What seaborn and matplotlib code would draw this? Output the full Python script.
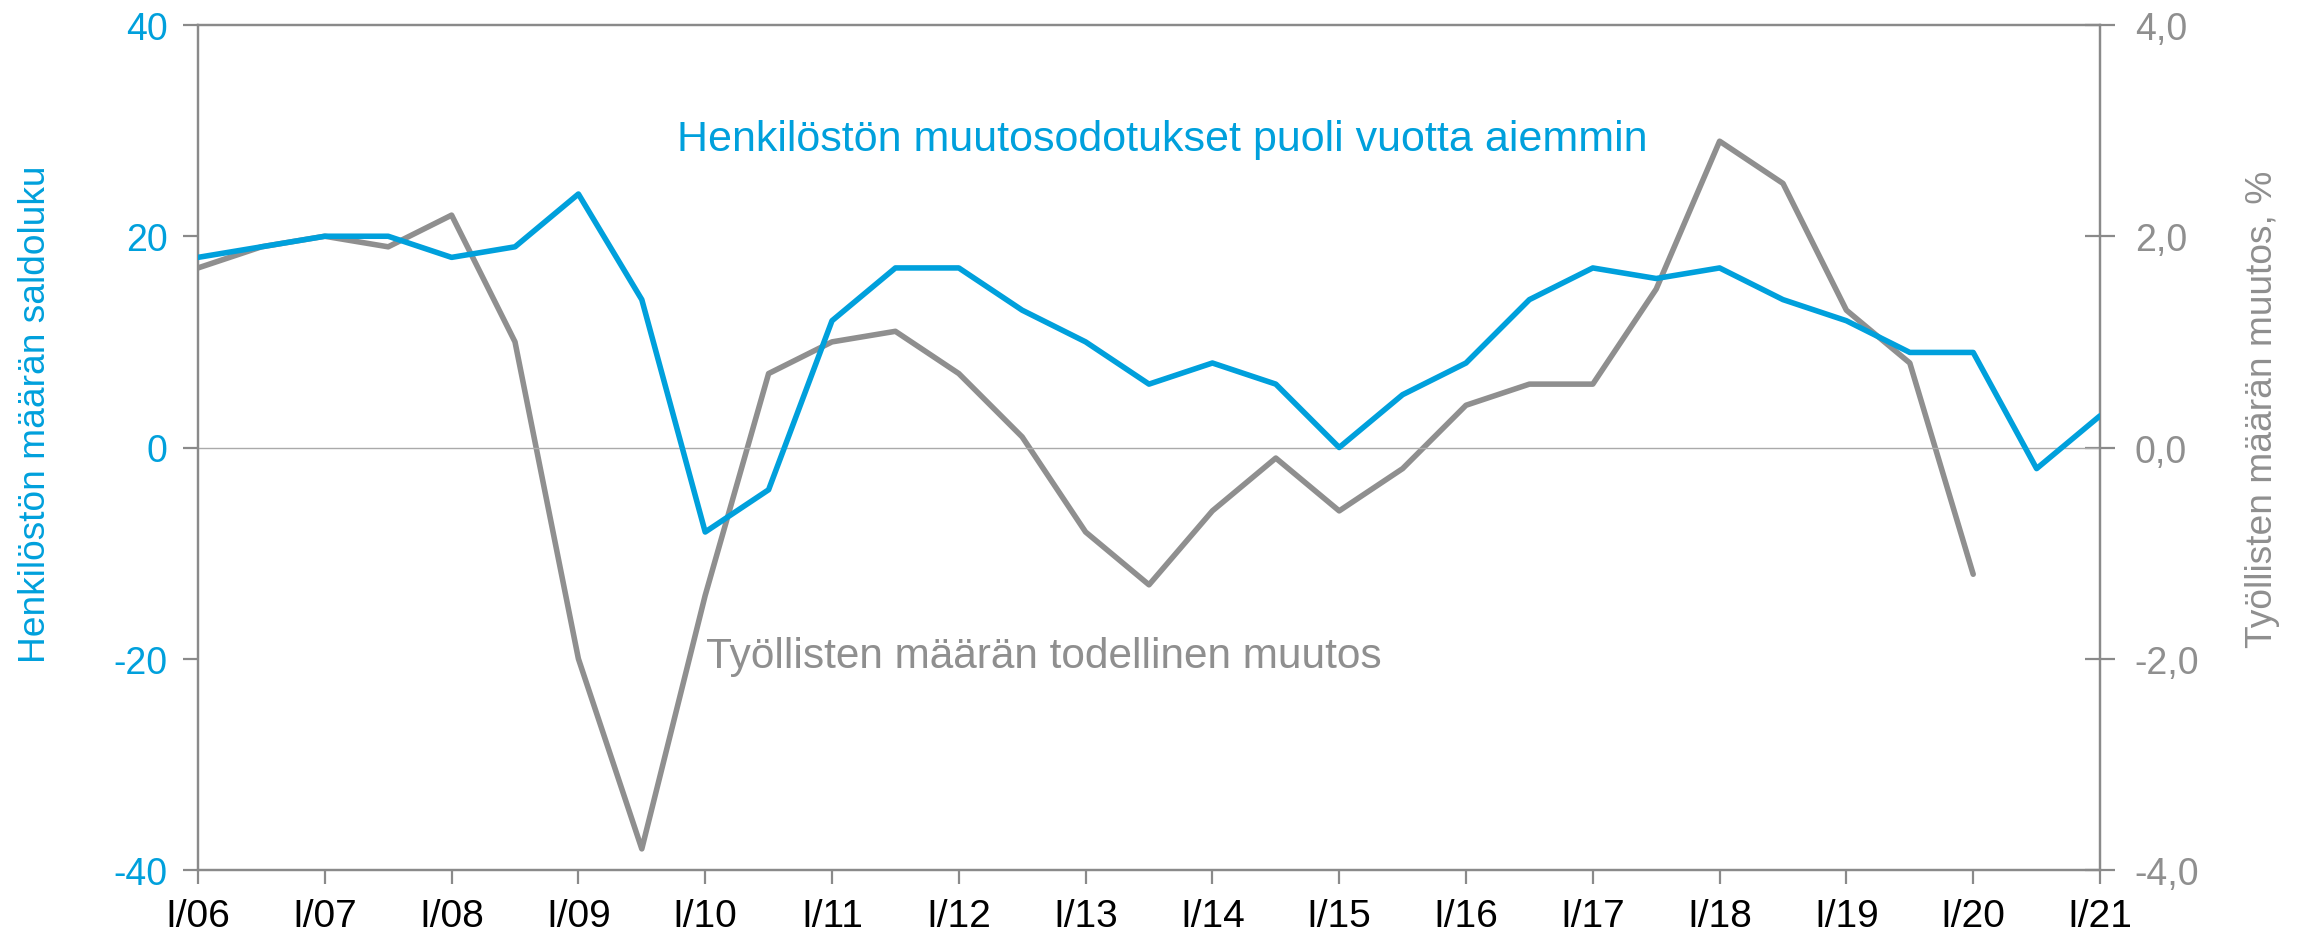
import matplotlib
matplotlib.use("Agg")
import matplotlib.pyplot as plt
from matplotlib import font_manager
import seaborn as sns
import pandas as pd

sns.set_theme(style="white")
plt.rcParams['font.family'] = ['Liberation Sans', 'DejaVu Sans']
plt.rcParams['axes.unicode_minus'] = False

names = {f.name for f in font_manager.fontManager.ttflist}
NARROW = 'Liberation Sans Narrow' if 'Liberation Sans Narrow' in names else 'Liberation Sans'

BLUE = "#00A0DC"
GRAY = "#8F8F8F"
SPINE = "#8A8A8A"

tick_labels = ["I/06", "I/07", "I/08", "I/09", "I/10", "I/11", "I/12", "I/13",
               "I/14", "I/15", "I/16", "I/17", "I/18", "I/19", "I/20", "I/21"]

# half-year observations, starting I/06
expectations = [18, 19, 20, 20, 18, 19, 24, 14, -8, -4, 12, 17, 17, 13, 10, 6,
                8, 6, 0, 5, 8, 14, 17, 16, 17, 14, 12, 9, 9, -2, 3]
employment = [1.7, 1.9, 2.0, 1.9, 2.2, 1.0, -2.0, -3.8, -1.4, 0.7, 1.0, 1.1,
              0.7, 0.1, -0.8, -1.3, -0.6, -0.1, -0.6, -0.2, 0.4, 0.6, 0.6,
              1.5, 2.9, 2.5, 1.3, 0.8, -1.2]

df_exp = pd.DataFrame({"t": range(len(expectations)), "v": expectations})
df_emp = pd.DataFrame({"t": range(len(employment)), "v": employment})

fig = plt.figure(figsize=(23.02, 9.37), dpi=100)
ax = fig.add_axes([198/2302, 1-871/937, (2100-198)/2302, (871-26)/937])
ax2 = ax.twinx()

ax.axhline(0, color="#AAAAAA", lw=1.0, zorder=1)
sns.lineplot(data=df_emp, x="t", y="v", ax=ax2, color=GRAY, lw=4.0, zorder=3)
sns.lineplot(data=df_exp, x="t", y="v", ax=ax, color=BLUE, lw=4.0, zorder=4)

ax.set_zorder(ax2.get_zorder() + 1)
ax.patch.set_visible(False)

ax.set_xlim(0, 30)
ax.set_ylim(-40, 40)
ax2.set_ylim(-4, 4)
ax.set_yticks([-40, -20, 0, 20, 40])
ax2.set_yticks([-4, -2, 0, 2, 4])
ax2.set_yticklabels(["-4,0", "-2,0", "0,0", "2,0", "4,0"])
ax.set_xticks(range(0, 31, 2))
ax.set_xticklabels(tick_labels, family=[NARROW, 'DejaVu Sans'])

for a in (ax, ax2):
    for s in a.spines.values():
        s.set_color(SPINE)
        s.set_linewidth(1.6)
        s.set_visible(True)

ax.tick_params(axis="y", direction="out", length=11, width=1.6, color=SPINE,
               labelcolor=BLUE, labelsize=27, pad=11, left=True)
ax.tick_params(axis="x", direction="out", length=10, width=1.6, color=SPINE,
               labelcolor="black", labelsize=28, pad=10, bottom=True)
ax2.tick_params(axis="y", direction="inout", length=22, width=1.6, color=SPINE,
                labelcolor=GRAY, labelsize=27, pad=14, right=True)

ax.set_xlabel("")
ax.set_ylabel("Henkilöstön määrän saldoluku", color=BLUE, fontsize=26.7)
ax2.set_ylabel("Työllisten määrän muutos, %", color=GRAY, fontsize=26.7)
ax.yaxis.set_label_coords(-0.076, 0.54)
ax2.yaxis.set_label_coords(1.076, 0.546)

ax.text(0.252, 0.865, "Henkilöstön muutosodotukset puoli vuotta aiemmin",
        transform=ax.transAxes, color=BLUE, fontsize=31, va="center", ha="left")
ax.text(0.267, 0.253, "Työllisten määrän todellinen muutos",
        transform=ax.transAxes, color=GRAY, fontsize=30.5, va="center", ha="left")

fig.savefig("out.png", dpi=100)
